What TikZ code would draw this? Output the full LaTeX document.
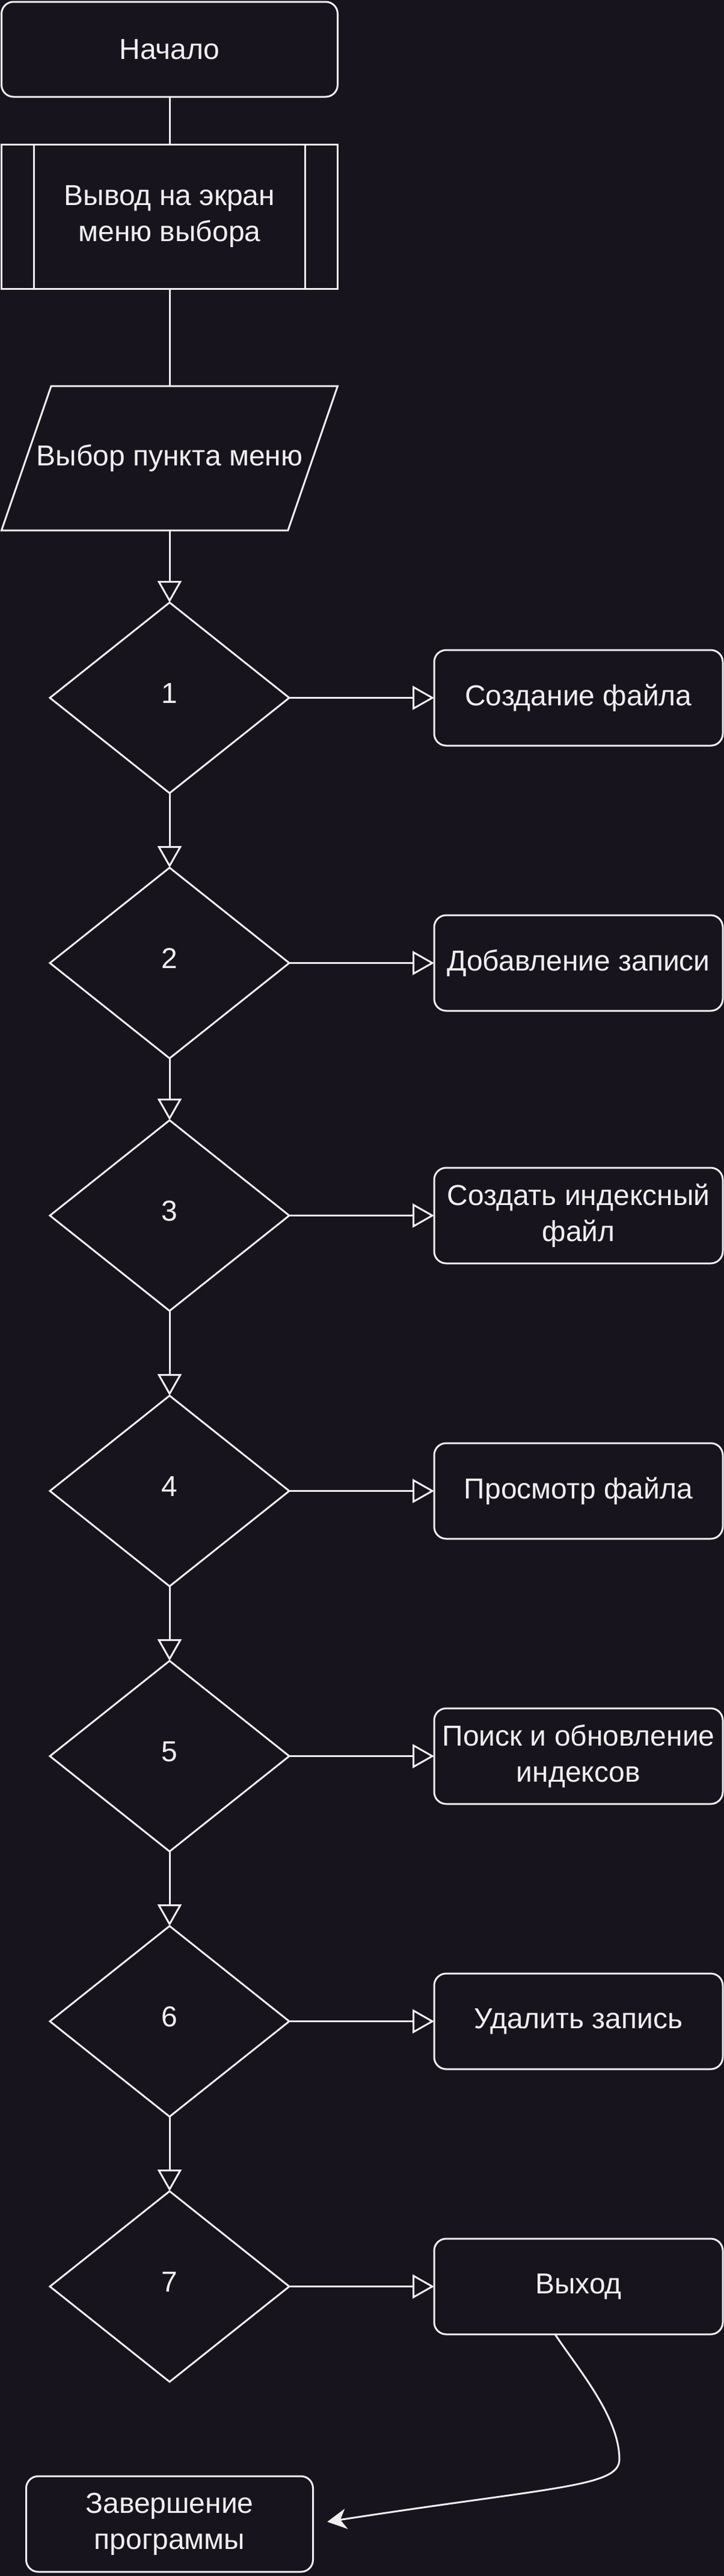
\documentclass[tikz,border=0pt]{standalone}
\usepackage{fontspec}
\setmainfont{Liberation Sans}
\usepackage{xcolor}
\usetikzlibrary{shapes, shapes.geometric, arrows, arrows.meta, positioning, calc}
\definecolor{bgdark}{HTML}{18141D}
\definecolor{linelight}{HTML}{F0F0F0}

\begin{document}
\begin{tikzpicture}[
            node distance=62pt and 120.5pt,
            font=\fontsize{24pt}{30pt}\selectfont,
            startstop/.style={
				rectangle,
				rounded corners=10pt,
				minimum width=279.5pt,
				minimum height=79pt,
				align=center,
				draw=linelight,
				line width=1.5pt,
				text=linelight,
				fill=bgdark,
				outer sep=0pt
			},
            subproc/.style={
				rectangle,
				minimum width=279.5pt,
				minimum height=120pt,
				align=center,
				draw=linelight,
				line width=1.5pt,
				text=linelight,
				fill=bgdark,
				outer sep=0pt,
				path picture={
					\draw[linelight, line width=1.5pt]
						([xshift=27pt]path picture bounding box.north west) -- ([xshift=27pt]path picture bounding box.south west)
						([xshift=-27pt]path picture bounding box.north east) -- ([xshift=-27pt]path picture bounding box.south east);
				}
			},
            io/.style={
				rectangle,
				minimum width=238.2pt,
				minimum height=120pt,
				align=center,
				text=linelight,
				outer sep=0pt
			},
            process/.style={
				rectangle,
				rounded corners=10pt,
				minimum width=240pt,
				minimum height=79.5pt,
				align=center,
				draw=linelight,
				line width=1.5pt,
				text=linelight,
				fill=bgdark,
				outer sep=0pt
			},
            decision/.style={
				diamond,
				aspect=1,
				minimum width=199pt,
				minimum height=158.5pt,
				text depth=8pt,
				align=center,
				draw=linelight,
				line width=1.5pt,
				text=linelight,
				fill=bgdark,
				outer sep=0pt
			},
            arrow/.style={
				draw=linelight,
				line width=1.5pt,
				-{Triangle[open, length=18pt, width=20pt]}
			},
            line/.style={
				draw=linelight,
				line width=1.5pt
			},
            curve/.style={
				draw=linelight,
				line width=1.5pt,
				shorten >=12pt,
				-{Stealth[length=16pt, width=17pt, inset=5pt]}
			}
        ]

        \fill[bgdark] (0,0) rectangle (602pt,-2142pt);
        \useasboundingbox (0,0) rectangle (602pt,-2142pt);

        \node (start) [startstop] at (141pt,-41pt) {Начало};
        \node (menu) [subproc, below=39.5pt of start] {Вывод на экран\\меню выбора};
        \node (choice) [io, below=81pt of menu] {Выбор пункта меню};
        \node (opt1) [decision, below=60pt of choice] {1};
        \node (opt2) [decision, below=of opt1] {2};
        \node (opt3) [decision, below=51.5pt of opt2] {3};
        \node (opt4) [decision, below=70.5pt of opt3] {4};
        \node (opt5) [decision, below=of opt4] {5};
        \node (opt6) [decision, below=of opt5] {6};
        \node (opt7) [decision, below=of opt6] {7};
        \node (finish) [startstop, below=78.5pt of opt7, minimum width=238.5pt, minimum height=79.5pt] {Завершение\\программы};

        \node (act1) [process, right=of opt1] {Создание файла};
        \node (act2) [process, right=of opt2] {Добавление записи};
        \node (act3) [process, right=of opt3] {Создать индексный\\файл};
        \node (act4) [process, right=of opt4] {Просмотр файла};
        \node (act5) [process, right=of opt5] {Поиск и обновление\\индексов};
        \node (act6) [process, right=of opt6] {Удалить запись};
        \node (act7) [process, right=of opt7] {Выход};

        \draw [line] ([xshift=20.65pt]choice.north west) -- ([xshift=20.65pt]choice.north east)
            -- ([xshift=-20.65pt]choice.south east) -- ([xshift=-20.65pt]choice.south west) -- cycle;

        \draw [line] (start) -- (menu);
        \draw [line] (menu) -- (choice);
        \draw [arrow] (choice) -- (opt1);
        \draw [arrow] (opt1) -- (opt2);
        \draw [arrow] (opt2) -- (opt3);
        \draw [arrow] (opt3) -- (opt4);
        \draw [arrow] (opt4) -- (opt5);
        \draw [arrow] (opt5) -- (opt6);
        \draw [arrow] (opt6) -- (opt7);

        \draw [arrow] (opt1) -- (act1);
        \draw [arrow] (opt2) -- (act2);
        \draw [arrow] (opt3) -- (act3);
        \draw [arrow] (opt4) -- (act4);
        \draw [arrow] (opt5) -- (act5);
        \draw [arrow] (opt6) -- (act6);
        \draw [arrow] (opt7) -- (act7);

        \coordinate (bend) at ($(act7.south) + (34pt,-104pt)$);

        \draw [curve] ([xshift=-19.5pt]act7.south) .. controls +(20pt,-30pt) and +(0pt,35pt) .. (bend)
            .. controls +(0pt,-23pt) and +(200pt,31pt) .. (finish.east);

        \end{tikzpicture}
\end{document}
